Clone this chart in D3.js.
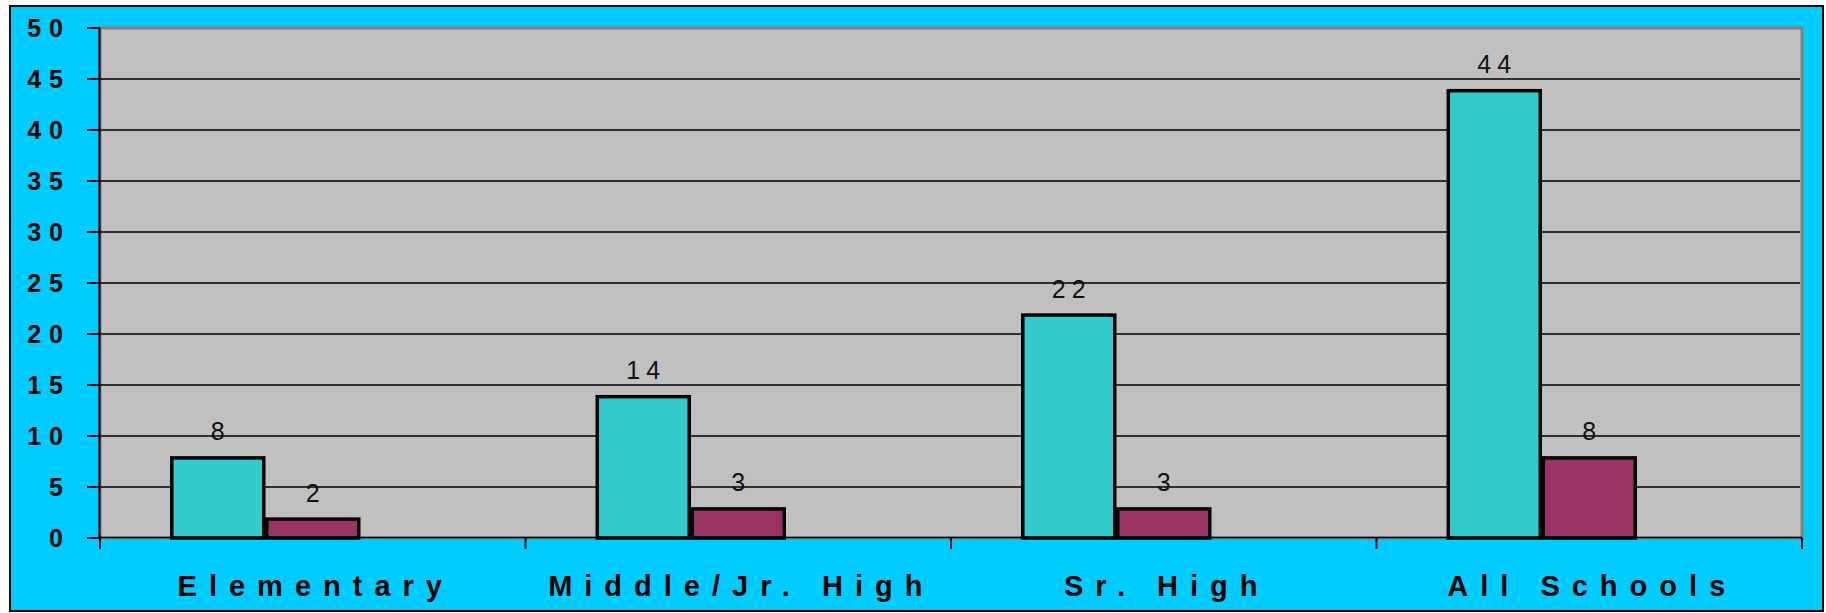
<!DOCTYPE html>
<html lang="en">
<head>
<meta charset="utf-8" />
<title>Schools Bar Chart</title>
<style>
    body { margin: 0; background: #fff; }
    text { font-family: "Liberation Sans", Arial, sans-serif; }
</style>
</head>
<body>
<div id="chart"></div>
<script src="https://d3js.org/d3.v7.min.js"></script>
<script>
    const categories = ['Elementary', 'Middle/Jr. High', 'Sr. High', 'All Schools'];
    const seriesA = [8, 14, 22, 44];
    const seriesB = [2, 3, 3, 8];
    const yTicks = [0, 5, 10, 15, 20, 25, 30, 35, 40, 45, 50];

    const width = 1826;
    const height = 613;
    const plot = { left: 100, right: 1802, top: 28, bottom: 538 };

    const svg = d3.select('#chart')
        .append('svg')
        .attr('width', width)
        .attr('height', height);

    // outer frame
    svg.append('rect')
        .attr('x', 10).attr('y', 6)
        .attr('width', 1813).attr('height', 605)
        .attr('fill', '#00CCFF')
        .attr('stroke', '#000')
        .attr('stroke-width', 2);

    // plot area
    svg.append('rect')
        .attr('x', plot.left).attr('y', plot.top)
        .attr('width', plot.right - plot.left)
        .attr('height', plot.bottom - plot.top)
        .attr('fill', '#C0C0C0')
        .attr('stroke', '#808080')
        .attr('stroke-width', 3);

    const y = d3.scaleLinear().domain([0, 50]).range([plot.bottom, plot.top]);
    const x0 = d3.scaleBand().domain(categories).range([plot.left, plot.right]);
    // third slot is an empty series, which is why the pair sits left of centre
    const x1 = d3.scaleBand()
        .domain(['a', 'b', 'empty'])
        .range([0, x0.bandwidth()])
        .paddingInner(0)
        .paddingOuter(0.74);

    // gridlines
    svg.append('g').selectAll('line')
        .data(yTicks.filter(d => d > 0 && d < 50))
        .enter().append('line')
        .attr('x1', plot.left).attr('x2', plot.right - 2)
        .attr('y1', d => y(d)).attr('y2', d => y(d))
        .attr('stroke', '#000')
        .attr('stroke-width', 1.3);

    // y axis
    const yAxis = svg.append('g');
    yAxis.append('line')
        .attr('x1', plot.left - 0.5).attr('x2', plot.left - 0.5)
        .attr('y1', plot.top).attr('y2', plot.bottom + 1)
        .attr('stroke', '#000').attr('stroke-width', 2);
    yAxis.selectAll('.tick')
        .data(yTicks)
        .enter().append('line')
        .attr('x1', 87).attr('x2', plot.left)
        .attr('y1', d => y(d)).attr('y2', d => y(d))
        .attr('stroke', '#000').attr('stroke-width', 2);
    yAxis.selectAll('text')
        .data(yTicks)
        .enter().append('text')
        .attr('x', 71)
        .attr('y', d => y(d))
        .attr('dy', '0.36em')
        .attr('text-anchor', 'end')
        .style('font-size', '25px')
        .style('font-weight', 'bold')
        .style('letter-spacing', '8px')
        .text(d => d);

    // bars
    const rows = categories.map((c, i) => ({ cat: c, a: seriesA[i], b: seriesB[i] }));
    const colors = { a: '#33CCCC', b: '#993366' };

    const groups = svg.append('g').selectAll('g')
        .data(rows)
        .enter().append('g')
        .attr('transform', d => `translate(${x0(d.cat)},0)`);

    const bars = groups.selectAll('rect')
        .data(d => ['a', 'b'].map(k => ({ key: k, value: d[k] })))
        .enter();

    bars.append('rect')
        .attr('x', d => x1(d.key) + 1.5)
        .attr('y', d => y(d.value) + 1.5)
        .attr('width', x1.bandwidth() - 3)
        .attr('height', d => y(0) - y(d.value) - 1.5)
        .attr('fill', d => colors[d.key])
        .attr('stroke', '#000')
        .attr('stroke-width', 3.5);

    bars.append('text')
        .attr('x', d => x1(d.key) + x1.bandwidth() / 2 + 3)
        .attr('y', d => y(d.value) - 16)
        .attr('text-anchor', 'middle')
        .style('font-size', '25px')
        .style('letter-spacing', '6px')
        .attr('fill', '#111')
        .text(d => d.value);

    // x axis
    const xAxis = svg.append('g');
    xAxis.append('line')
        .attr('x1', plot.left).attr('x2', plot.right)
        .attr('y1', plot.bottom - 0.5).attr('y2', plot.bottom - 0.5)
        .attr('stroke', '#000').attr('stroke-width', 1.5);
    xAxis.selectAll('.tick')
        .data(categories.concat([null]))
        .enter().append('line')
        .attr('x1', d => d === null ? plot.right : x0(d))
        .attr('x2', d => d === null ? plot.right : x0(d))
        .attr('y1', plot.bottom).attr('y2', 549)
        .attr('stroke', '#000').attr('stroke-width', 2);
    xAxis.selectAll('text')
        .data(categories)
        .enter().append('text')
        .attr('x', d => x0(d) + x0.bandwidth() / 2 + 3)
        .attr('y', 596)
        .attr('text-anchor', 'middle')
        .style('font-size', '29px')
        .style('font-weight', 'bold')
        .style('letter-spacing', '12px')
        .text(d => d);
</script>
</body>
</html>
